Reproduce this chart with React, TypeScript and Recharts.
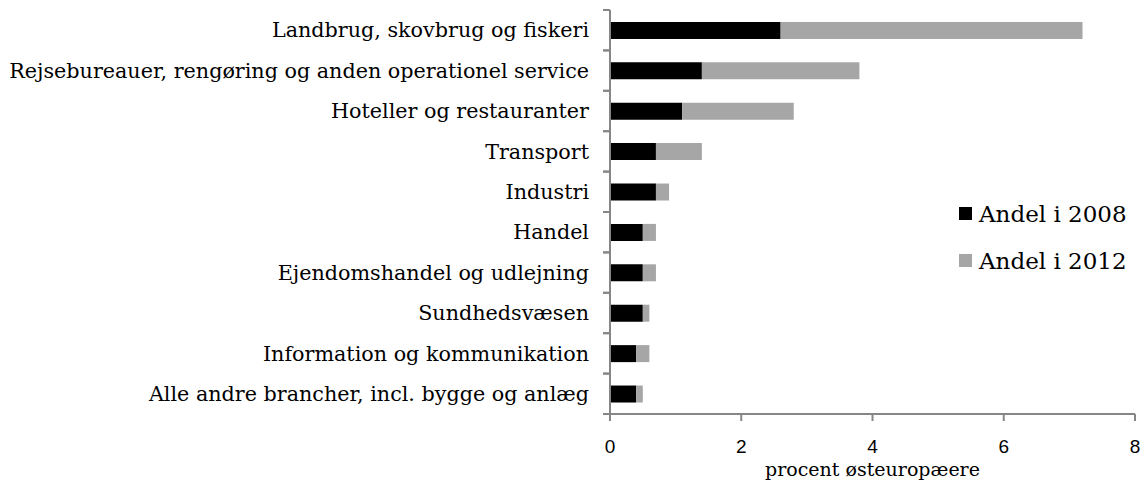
import React from "react";
import { BarChart, Bar, XAxis, YAxis } from "recharts";

const brancher = [
  "Landbrug, skovbrug og fiskeri",
  "Rejsebureauer, rengøring og anden operationel service",
  "Hoteller og restauranter",
  "Transport",
  "Industri",
  "Handel",
  "Ejendomshandel og udlejning",
  "Sundhedsvæsen",
  "Information og kommunikation",
  "Alle andre brancher, incl. bygge og anlæg",
];
const andel2008 = [2.6, 1.4, 1.1, 0.7, 0.7, 0.5, 0.5, 0.5, 0.4, 0.4];
const andel2012 = [4.6, 2.4, 1.7, 0.7, 0.2, 0.2, 0.2, 0.1, 0.2, 0.1];
const xTicks = [0, 2, 4, 6, 8];

const data = brancher.map((name, i) => ({ name, a2008: andel2008[i], a2012: andel2012[i] }));

const serif = "'DejaVu Serif', Georgia, serif";
const axisColor = "#868686";
const TICK = 7;
const GAP = 14;

const legendItems = [
  { label: "Andel i 2008", color: "#000000" },
  { label: "Andel i 2012", color: "#a6a6a6" },
];

// category label plus Excel-style tick marks on the band boundaries
const CategoryTick = (props: any) => {
  const { x, y, payload } = props;
  const half = payload && payload.offset ? payload.offset : 20;
  const ax = x + GAP + TICK;
  return (
    <g>
      <line x1={ax - TICK} x2={ax} y1={y - half} y2={y - half} stroke={axisColor} strokeWidth={2} />
      <line x1={ax - TICK} x2={ax} y1={y + half} y2={y + half} stroke={axisColor} strokeWidth={2} />
      <text x={x} y={y} dy="0.35em" textAnchor="end" fill="#000" fontSize={20.7} fontFamily={serif}>
        {payload.value}
      </text>
    </g>
  );
};

export default function App() {
  return (
    <div style={{ position: "absolute", left: 0, top: 0, width: 1148, height: 482, background: "#fff", overflow: "hidden" }}>
      <BarChart
        width={1148}
        height={482}
        data={data}
        layout="vertical"
        barCategoryGap="29.5%"
        margin={{ top: 10, right: 13, bottom: 38, left: 0 }}
      >
        <YAxis
          type="category"
          dataKey="name"
          width={610}
          stroke={axisColor}
          strokeWidth={2}
          tickLine={false}
          tickSize={TICK}
          tickMargin={GAP}
          interval={0}
          tick={<CategoryTick />}
        />
        <XAxis
          type="number"
          domain={[0, 8]}
          ticks={xTicks}
          stroke={axisColor}
          strokeWidth={2}
          tickSize={TICK}
          tickMargin={19}
          tick={{ fill: "#000", fontSize: 19, fontFamily: "'Liberation Sans', Arial, sans-serif" }}
          label={{ value: "procent østeuropæere", position: "bottom", offset: 19, fill: "#000", fontSize: 19, fontFamily: serif }}
        />
        <Bar dataKey="a2008" stackId="s" fill="#000000" isAnimationActive={false} />
        <Bar dataKey="a2012" stackId="s" fill="#a6a6a6" isAnimationActive={false} />
      </BarChart>
      <div style={{ position: "absolute", left: 959, top: 190, fontFamily: serif, fontSize: 23, color: "#000" }}>
        {legendItems.map((it) => (
          <div key={it.label} style={{ display: "flex", alignItems: "center", height: 47 }}>
            <span style={{ width: 13, height: 13, background: it.color, marginRight: 7, display: "inline-block" }} />
            {it.label}
          </div>
        ))}
      </div>
    </div>
  );
}
